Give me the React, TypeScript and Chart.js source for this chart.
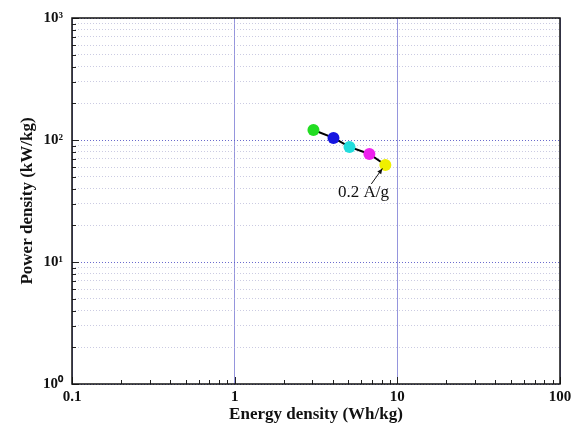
import React, { useEffect, useRef } from "react";
import { Chart, registerables } from "chart.js";
Chart.register(...registerables);

const energy = [3.05, 4.05, 5.08, 6.73, 8.44];
const power = [120.7, 104, 87.7, 76.8, 62.4];
const pointColors = ["#22dd22", "#1515e0", "#22dddd", "#ee22ee", "#f0f000"];
const xTickValues = [0.1, 1, 10, 100];
const yTickValues = [1, 10, 100, 1000];
const annotationText = "0.2 A/g";
const annotationPos = { x: 6.2, y: 36.8 };
const arrowFrom = { x: 6.92, y: 43.6 };
const arrowTo = { x: 8.1, y: 58.5 };

const SUP: Record<string, string> = { "0": "\u2070", "1": "\u00B9", "2": "\u00B2", "3": "\u00B3" };
const SERIF = "'Liberation Serif', 'Times New Roman', serif";

function logTicks(min: number, max: number) {
  const out: { value: number; major: boolean }[] = [];
  for (let e = Math.round(Math.log10(min)); e < Math.round(Math.log10(max)); e++) {
    for (let k = 1; k <= 9; k++) {
      out.push({ value: k * Math.pow(10, e), major: k === 1 });
    }
  }
  out.push({ value: max, major: true });
  return out;
}
const isMajor = (v: number) => Math.abs(Math.log10(v) - Math.round(Math.log10(v))) < 1e-6;

const framePlugin = {
  id: "frame",
  afterDraw(chart: any) {
    const { ctx, chartArea: a, scales } = chart;
    const xs = scales.x, ys = scales.y;
    ctx.save();
    ctx.strokeStyle = "#222";
    ctx.lineWidth = 1;
    ctx.beginPath();
    for (const t of xs.ticks) {
      const px = Math.round(xs.getPixelForValue(t.value)) + 0.5;
      const len = isMajor(t.value) ? 7 : 4;
      ctx.moveTo(px, a.bottom);
      ctx.lineTo(px, a.bottom - len);
    }
    for (const t of ys.ticks) {
      const py = Math.round(ys.getPixelForValue(t.value)) + 0.5;
      const len = isMajor(t.value) ? 7 : 4;
      ctx.moveTo(a.left, py);
      ctx.lineTo(a.left + len, py);
    }
    ctx.stroke();
    ctx.lineWidth = 1.5;
    ctx.strokeStyle = "#111";
    ctx.strokeRect(a.left, a.top, a.right - a.left, a.bottom - a.top);
    const tx = xs.getPixelForValue(annotationPos.x);
    const ty = ys.getPixelForValue(annotationPos.y);
    ctx.fillStyle = "#111";
    ctx.font = `17px ${SERIF}`;
    ctx.textAlign = "center";
    ctx.textBaseline = "middle";
    ctx.fillText(annotationText, tx, ty);
    const x1 = xs.getPixelForValue(arrowFrom.x), y1 = ys.getPixelForValue(arrowFrom.y);
    const x2 = xs.getPixelForValue(arrowTo.x), y2 = ys.getPixelForValue(arrowTo.y);
    ctx.lineWidth = 1;
    ctx.beginPath();
    ctx.moveTo(x1, y1);
    ctx.lineTo(x2, y2);
    ctx.stroke();
    const ang = Math.atan2(y2 - y1, x2 - x1);
    ctx.beginPath();
    ctx.moveTo(x2, y2);
    ctx.lineTo(x2 - 6 * Math.cos(ang - 0.4), y2 - 6 * Math.sin(ang - 0.4));
    ctx.lineTo(x2 - 6 * Math.cos(ang + 0.4), y2 - 6 * Math.sin(ang + 0.4));
    ctx.closePath();
    ctx.fill();
    ctx.restore();
  },
};

export default function App() {
  const ref = useRef<HTMLCanvasElement>(null);
  useEffect(() => {
    document.body.style.margin = "0";
    const chart = new Chart(ref.current!, {
      type: "scatter",
      data: {
        datasets: [
          {
            data: energy.map((x, i) => ({ x, y: power[i] })),
            showLine: true,
            borderColor: "#000",
            borderWidth: 2,
            pointBackgroundColor: pointColors,
            pointBorderColor: pointColors,
            pointBorderWidth: 0,
            pointRadius: 6,
          },
        ],
      },
      options: {
        animation: false,
        responsive: false,
        devicePixelRatio: 1,
        layout: { padding: { left: 0, top: 18, right: 16, bottom: 0 } },
        plugins: { legend: { display: false }, tooltip: { enabled: false } },
        scales: {
          x: {
            type: "logarithmic",
            min: xTickValues[0],
            max: xTickValues[xTickValues.length - 1],
            afterBuildTicks: (s: any) => { s.ticks = logTicks(0.1, 100).map((t) => ({ value: t.value })); },
            afterFit: (s: any) => { s.height = 51; },
            grid: {
              drawTicks: false,
              lineWidth: 1,
              color: (c: any) => {
                const v = c.tick?.value;
                return v !== undefined && isMajor(v) ? "rgba(130,130,215,0.85)" : "rgba(0,0,0,0)";
              },
            },
            border: { display: false },
            ticks: {
              padding: 4,
              autoSkip: false,
              maxRotation: 0,
              color: "#111",
              font: { family: SERIF, size: 15, weight: "bold" },
              callback: (v: any) => (xTickValues.includes(Number(v)) ? String(v) : ""),
            },
            title: {
              display: true,
              text: "Energy density (Wh/kg)",
              color: "#111",
              font: { family: SERIF, size: 17, weight: "bold" },
              padding: { top: 0, bottom: 10 },
            },
          },
          y: {
            type: "logarithmic",
            min: yTickValues[0],
            max: yTickValues[yTickValues.length - 1],
            afterBuildTicks: (s: any) => { s.ticks = logTicks(1, 1000).map((t) => ({ value: t.value })); },
            afterFit: (s: any) => { s.width = 72; },
            grid: {
              drawTicks: false,
              lineWidth: 1,
              color: (c: any) => {
                const v = c.tick?.value;
                if (v === undefined) return "rgba(0,0,0,0)";
                return isMajor(v) ? "rgba(90,90,200,0.9)" : "rgba(175,175,210,0.65)";
              },
            },
            border: { display: false, dash: [1, 2] },
            ticks: {
              padding: 9,
              autoSkip: false,
              color: "#111",
              font: { family: SERIF, size: 15, weight: "bold" },
              callback: (v: any) => {
                const n = Number(v);
                if (!yTickValues.includes(n)) return "";
                const e = String(Math.round(Math.log10(n)));
                return "10" + SUP[e];
              },
            },
            title: {
              display: true,
              text: "Power density (kW/kg)",
              color: "#111",
              font: { family: SERIF, size: 17, weight: "bold" },
              padding: { top: 17, bottom: 0 },
            },
          },
        },
      },
      plugins: [framePlugin],
    } as any);
    return () => chart.destroy();
  }, []);
  return <canvas ref={ref} width={576} height={435} style={{ display: "block" }} />;
}
